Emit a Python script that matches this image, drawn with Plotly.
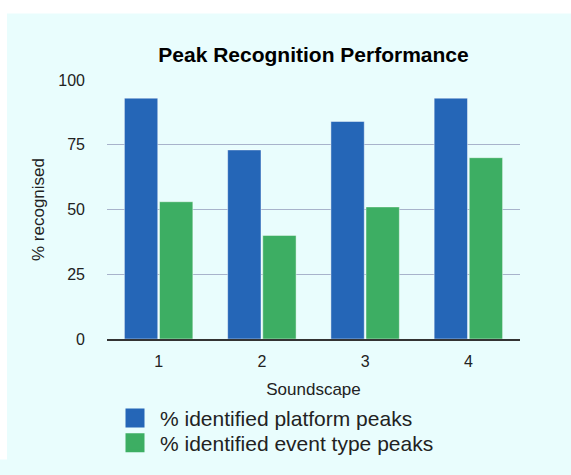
import plotly.graph_objects as go

categories = ["1", "2", "3", "4"]
platform_peaks = [93, 73, 84, 93]
event_type_peaks = [53, 40, 51, 70]
series_names = ["% identified platform peaks", "% identified event type peaks"]
series_colors = ["#2566B7", "#3DAE63"]
y_ticks = [0, 25, 50, 75, 100]

FONT = "Liberation Sans, Arial, Helvetica, sans-serif"
W, H = 571, 475
L, R, T, B = 107, 51, 80, 122
PW, PH = W - L - R, H - T - B
PANEL = "#E9FDFD"


def px_x(p):
    return (p - L) / PW


def px_y(p):
    return (H - p - B) / PH


fig = go.Figure()
for name, vals, col in zip(series_names, [platform_peaks, event_type_peaks], series_colors):
    fig.add_trace(go.Bar(
        x=categories, y=vals, name=name, showlegend=False,
        marker=dict(color=col, line=dict(color="rgba(255,255,255,0.45)", width=1)),
    ))
# legend entries (square swatches drawn by plotly's legends)
for name, col, lg in zip(series_names, series_colors, ["legend", "legend2"]):
    fig.add_trace(go.Scatter(
        x=[None], y=[None], mode="markers", name=name, legend=lg,
        marker=dict(symbol="square", size=16, color=col, line=dict(color=col, width=3)),
    ))

# thin white frame at top and left of the panel
fig.add_shape(type="rect", xref="paper", yref="paper",
              x0=px_x(-5), x1=px_x(W + 5), y0=px_y(10), y1=px_y(-5),
              fillcolor="white", line=dict(width=0), layer="above")
fig.add_shape(type="rect", xref="paper", yref="paper",
              x0=px_x(-5), x1=px_x(7), y0=px_y(H + 5), y1=px_y(-5),
              fillcolor="white", line=dict(width=0), layer="above")

legend_common = dict(xanchor="left", yanchor="top", itemwidth=40,
                     bgcolor="rgba(0,0,0,0)", borderwidth=0, orientation="v",
                     font=dict(size=21, color="#222222", family=FONT))

fig.update_layout(
    width=W, height=H,
    margin=dict(l=L, r=R, t=T, b=B),
    paper_bgcolor=PANEL, plot_bgcolor=PANEL,
    font=dict(family=FONT, color="#222222"),
    title=dict(text="<b>Peak Recognition Performance</b>", x=0.5, xref="paper",
               xanchor="center", y=1 - 55 / H, yanchor="middle",
               font=dict(size=21, color="#000000", family=FONT)),
    barmode="group", bargap=0.32, bargroupgap=0.05,
    legend=dict(x=px_x(110), y=px_y(415), **legend_common),
    legend2=dict(x=px_x(110), y=px_y(441), **legend_common),
    xaxis=dict(
        type="category", showgrid=False, showline=True, linecolor="#333333", linewidth=1.5,
        ticks="", tickfont=dict(size=16), ticklabelstandoff=7,
        title=dict(text="Soundscape", font=dict(size=17), standoff=14),
        fixedrange=True,
    ),
    yaxis=dict(
        range=[0, 100], tickvals=y_ticks, showgrid=True, gridcolor="#A8B3CB", gridwidth=1,
        zeroline=False, showline=False, ticks="", tickfont=dict(size=16),
        ticklabelstandoff=21,
        title=dict(text="% recognised", font=dict(size=17), standoff=9),
        fixedrange=True,
    ),
)

fig.write_html("out.html", config={"displayModeBar": False},
               post_script="document.body.style.margin='0';")
